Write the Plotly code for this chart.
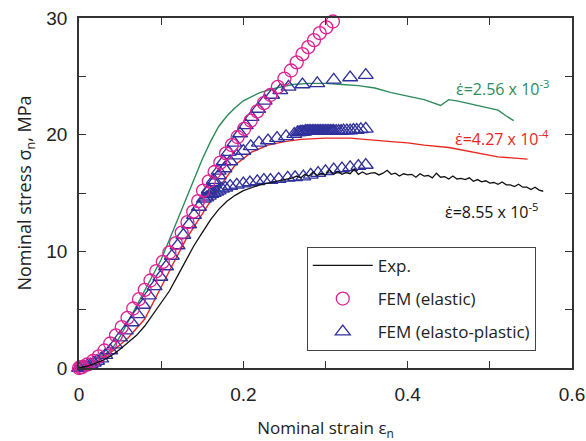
import plotly.graph_objects as go

# ---------------- data ----------------
# Experimental curves (strain, stress)
exp_slow_x = [0, 0.01, 0.02, 0.03, 0.04, 0.05, 0.06, 0.07, 0.08, 0.09, 0.10, 0.11, 0.12, 0.13,
              0.14, 0.15, 0.16, 0.17, 0.18, 0.19, 0.20, 0.21, 0.22, 0.23, 0.24, 0.25, 0.26,
              0.265, 0.27, 0.275, 0.28, 0.285, 0.29, 0.295, 0.30, 0.305, 0.31, 0.315, 0.32,
              0.325, 0.33, 0.335, 0.34, 0.345, 0.35, 0.355, 0.36, 0.365, 0.37, 0.375, 0.38,
              0.385, 0.39, 0.395, 0.40, 0.405, 0.41, 0.415, 0.42, 0.425, 0.43, 0.435, 0.44,
              0.445, 0.45, 0.455, 0.46, 0.465, 0.47, 0.475, 0.48, 0.485, 0.49, 0.495, 0.50,
              0.505, 0.51, 0.515, 0.52, 0.525, 0.53, 0.535, 0.54, 0.545, 0.55, 0.555, 0.56, 0.565]
exp_slow_y = [0, 0.15, 0.4, 0.7, 1.1, 1.6, 2.2, 2.8, 3.6, 4.6, 5.6, 6.6, 7.9, 9.2,
              10.5, 11.6, 12.7, 13.6, 14.3, 14.8, 15.2, 15.45, 15.7, 15.85, 16.0, 16.15, 16.3,
              16.45, 16.3, 16.6, 16.45, 16.8, 16.5, 16.7, 16.55, 17.0, 16.6, 16.85, 16.6,
              16.75, 16.65, 17.05, 16.6, 16.8, 16.6, 16.7, 16.75, 16.55, 16.7, 16.95, 16.6,
              16.7, 16.45, 16.65, 16.55, 16.6, 16.35, 16.65, 16.45, 16.5, 16.3, 16.7, 16.35,
              16.4, 16.2, 16.45, 16.2, 16.25, 16.15, 16.3, 16.0, 16.15, 15.95, 16.05, 15.85,
              15.9, 15.75, 15.95, 15.7, 15.7, 15.55, 15.75, 15.5, 15.5, 15.3, 15.5, 15.25, 15.15]

exp_mid_x = [0, 0.02, 0.04, 0.06, 0.08, 0.10, 0.115, 0.13, 0.15, 0.17, 0.19, 0.21, 0.23, 0.25,
             0.27, 0.30, 0.33, 0.36, 0.38, 0.40, 0.42, 0.45, 0.48, 0.51, 0.546]
exp_mid_y = [0, 0.5, 1.4, 2.6, 4.2, 7.0, 9.0, 11.0, 13.2, 15.4, 17.4, 18.5, 19.1, 19.4,
             19.6, 19.7, 19.7, 19.5, 19.4, 19.3, 19.1, 18.9, 18.5, 18.1, 17.9]

exp_fast_x = [0, 0.01, 0.02, 0.03, 0.04, 0.05, 0.06, 0.07, 0.08, 0.09, 0.10, 0.11, 0.12, 0.13,
              0.14, 0.15, 0.16, 0.17, 0.18, 0.19, 0.20, 0.22, 0.24, 0.26, 0.28, 0.30, 0.32, 0.34,
              0.36, 0.37, 0.38, 0.40, 0.42, 0.44, 0.45, 0.46, 0.48, 0.50, 0.51, 0.52, 0.529]
exp_fast_y = [0, 0.3, 0.7, 1.1, 1.6, 2.7, 4.0, 5.3, 6.6, 7.9, 9.3, 11.0, 12.7, 14.4,
              16.1, 17.9, 19.4, 20.7, 21.6, 22.3, 22.9, 23.6, 24.0, 24.3, 24.4, 24.4, 24.3, 24.2,
              24.0, 23.8, 23.6, 23.3, 23.0, 22.5, 23.0, 22.9, 22.6, 22.3, 22.1, 21.6, 21.2]

# FEM (elastic)
fem_el_x = [0.000, 0.002, 0.004, 0.010, 0.017, 0.024, 0.031, 0.038, 0.045, 0.052, 0.059, 0.066,
            0.073, 0.080, 0.087, 0.094, 0.102, 0.110, 0.118, 0.125, 0.132, 0.139, 0.145, 0.151,
            0.158, 0.165, 0.172, 0.179, 0.186, 0.193, 0.201, 0.209, 0.217, 0.225, 0.233, 0.242,
            0.250, 0.258, 0.265, 0.272, 0.279, 0.286, 0.293, 0.301, 0.309]
fem_el_y = [0.0, 0.05, 0.1, 0.3, 0.6, 1.0, 1.5, 2.1, 2.8, 3.5, 4.3, 5.1,
            5.9, 6.7, 7.5, 8.3, 9.1, 9.9, 10.7, 11.6, 12.5, 13.4, 14.3, 15.2,
            16.0, 16.8, 17.6, 18.4, 19.1, 19.8, 20.5, 21.2, 22.0, 22.7, 23.4, 24.1,
            24.8, 25.5, 26.2, 26.9, 27.5, 28.1, 28.7, 29.2, 29.7]

# FEM (elasto-plastic): common loading part
fem_ep_base_x = [0.000, 0.003, 0.006, 0.010, 0.014, 0.018, 0.022, 0.027, 0.032, 0.038, 0.044,
                 0.050, 0.057, 0.064, 0.071, 0.078, 0.085, 0.092, 0.099, 0.106, 0.113, 0.120,
                 0.127, 0.134, 0.140, 0.146, 0.152]
fem_ep_base_y = [0.0, 0.05, 0.1, 0.2, 0.3, 0.45, 0.6, 0.8, 1.1, 1.5, 2.0,
                 2.6, 3.2, 3.9, 4.6, 5.4, 6.2, 7.0, 7.8, 8.7, 9.6, 10.5,
                 11.4, 12.3, 13.1, 13.8, 14.5]
# branch, 8.55e-5
fem_ep_slow_x = [0.155, 0.158, 0.161, 0.164, 0.167, 0.170, 0.174, 0.178, 0.184, 0.192, 0.200,
                 0.208, 0.217, 0.225, 0.233, 0.243, 0.254, 0.263, 0.273, 0.282, 0.291, 0.300,
                 0.310, 0.320, 0.330, 0.340, 0.349]
fem_ep_slow_y = [14.6, 14.75, 14.9, 15.0, 15.1, 15.2, 15.35, 15.45, 15.6, 15.7, 15.8,
                 15.9, 16.0, 16.1, 16.1, 16.2, 16.3, 16.35, 16.4, 16.55, 16.7, 16.85,
                 17.0, 17.1, 17.2, 17.3, 17.4]
# branch, 4.27e-4
fem_ep_mid_x = [0.158, 0.164, 0.170, 0.177, 0.184, 0.192, 0.200, 0.209, 0.219, 0.230, 0.241,
                0.252, 0.262, 0.266, 0.268, 0.270, 0.272, 0.274, 0.276, 0.278, 0.280, 0.282,
                0.284, 0.286, 0.288, 0.290, 0.292, 0.294, 0.296, 0.298, 0.300, 0.302, 0.304,
                0.306, 0.308, 0.310, 0.313, 0.316, 0.319, 0.322, 0.326, 0.330, 0.334, 0.338,
                0.343, 0.349]
fem_ep_mid_y = [15.2, 15.9, 16.5, 17.1, 17.7, 18.2, 18.6, 19.0, 19.3, 19.5, 19.7,
                19.85, 20.05, 20.2, 20.2, 20.25, 20.25, 20.25, 20.3, 20.3, 20.3, 20.3,
                20.3, 20.3, 20.3, 20.3, 20.3, 20.3, 20.3, 20.3, 20.3, 20.3, 20.3,
                20.3, 20.3, 20.3, 20.3, 20.3, 20.3, 20.35, 20.35, 20.35, 20.4, 20.4,
                20.45, 20.5]
# branch, 2.56e-3
fem_ep_fast_x = [0.158, 0.164, 0.170, 0.176, 0.182, 0.189, 0.196, 0.203, 0.210, 0.218, 0.226,
                 0.235, 0.245, 0.255, 0.272, 0.290, 0.310, 0.330, 0.349]
fem_ep_fast_y = [15.3, 16.1, 16.9, 17.7, 18.5, 19.3, 20.1, 20.8, 21.5, 22.2, 22.9,
                 23.4, 23.8, 24.1, 24.3, 24.4, 24.7, 24.9, 25.1]

rate_labels = ["ε̇=2.56 x 10<sup>-3</sup>", "ε̇=4.27 x 10<sup>-4</sup>", "ε̇=8.55 x 10<sup>-5</sup>"]
rate_label_x = [0.456, 0.455, 0.443]
rate_label_y = [24.0, 19.7, 13.5]

x_tickvals = [0, 0.2, 0.4, 0.6]
x_ticktext = ["0", "0.2", "0.4", "0.6"]
y_tickvals = [0, 10, 20, 30]

# ---------------- styles ----------------
GREEN = "#2e8b5c"
RED = "#e8261f"
BLACK = "#111111"
MAGENTA = "#de2192"
BLUE = "#30309c"
AXIS = "#333333"

fig = go.Figure()

fig.add_trace(go.Scatter(x=exp_fast_x, y=exp_fast_y, mode="lines",
                         line=dict(color=GREEN, width=1.4), showlegend=False, hoverinfo="skip"))
fig.add_trace(go.Scatter(x=exp_mid_x, y=exp_mid_y, mode="lines",
                         line=dict(color=RED, width=1.4), showlegend=False, hoverinfo="skip"))

tri = dict(symbol="triangle-up-open", size=13, color=BLUE, line=dict(width=1.3, color=BLUE))
fig.add_trace(go.Scatter(x=fem_ep_base_x, y=fem_ep_base_y, mode="markers", marker=tri,
                         name="FEM (elasto-plastic)", legendgroup="c", legendrank=3,
                         showlegend=True, cliponaxis=False))
for bx, by in [(fem_ep_slow_x, fem_ep_slow_y), (fem_ep_mid_x, fem_ep_mid_y),
               (fem_ep_fast_x, fem_ep_fast_y)]:
    fig.add_trace(go.Scatter(x=bx, y=by, mode="markers", marker=tri, legendgroup="c",
                             showlegend=False, cliponaxis=False))

fig.add_trace(go.Scatter(x=fem_el_x, y=fem_el_y, mode="markers",
                         marker=dict(symbol="circle-open", size=13, color=MAGENTA,
                                     line=dict(width=1.3, color=MAGENTA)),
                         name="FEM (elastic)", legendgroup="b", legendrank=2, cliponaxis=False))

fig.add_trace(go.Scatter(x=exp_slow_x, y=exp_slow_y, mode="lines",
                         line=dict(color=BLACK, width=1.3), name="Exp.", legendgroup="a",
                         legendrank=1))

label_colors = [GREEN, RED, BLACK]
for t, lx, ly, c in zip(rate_labels, rate_label_x, rate_label_y, label_colors):
    fig.add_annotation(x=lx, y=ly, text=t, showarrow=False, xanchor="left", yanchor="middle",
                       font=dict(family="Open Sans", size=16, color=c))

fig.update_layout(
    width=586, height=441,
    margin=dict(l=79, r=14, t=18, b=73, autoexpand=False),
    paper_bgcolor="white", plot_bgcolor="white",
    font=dict(family="Open Sans", color="#222"),
    legend=dict(x=0.462, y=0.346, xanchor="left", yanchor="top",
                bgcolor="white", bordercolor="#444", borderwidth=1,
                font=dict(family="Open Sans", size=17, color="#222"),
                traceorder="grouped", tracegroupgap=8, itemwidth=60),
    showlegend=True,
)

fig.update_xaxes(range=[0, 0.6], tickvals=x_tickvals, ticktext=x_ticktext, automargin=False,
                 ticks="inside", ticklen=7, tickwidth=1.3, tickcolor=AXIS,
                 minor=dict(dtick=0.1, ticks="inside", ticklen=7, tickwidth=1.3, tickcolor=AXIS),
                 showline=True, linecolor=AXIS, linewidth=1.5, mirror="ticks",
                 showgrid=False, zeroline=False, ticklabelstandoff=8,
                 tickfont=dict(family="Liberation Sans", size=19, color="#222"),
                 title=dict(text="Nominal strain ε<sub>n</sub>",
                            font=dict(family="Open Sans", size=17, color="#222"), standoff=20))
fig.update_yaxes(range=[0, 30], tickvals=y_tickvals, automargin=False,
                 ticks="inside", ticklen=7, tickwidth=1.3, tickcolor=AXIS,
                 minor=dict(dtick=5, ticks="inside", ticklen=7, tickwidth=1.3, tickcolor=AXIS),
                 showline=True, linecolor=AXIS, linewidth=1.5, mirror="ticks",
                 showgrid=False, zeroline=False,
                 tickfont=dict(family="Liberation Sans", size=19, color="#222"),
                 ticklabelstandoff=6,
                 title=dict(text="Nominal stress σ<sub>n</sub>, MPa",
                            font=dict(family="Open Sans", size=18, color="#222"), standoff=10))

fig.write_html("out.html")
